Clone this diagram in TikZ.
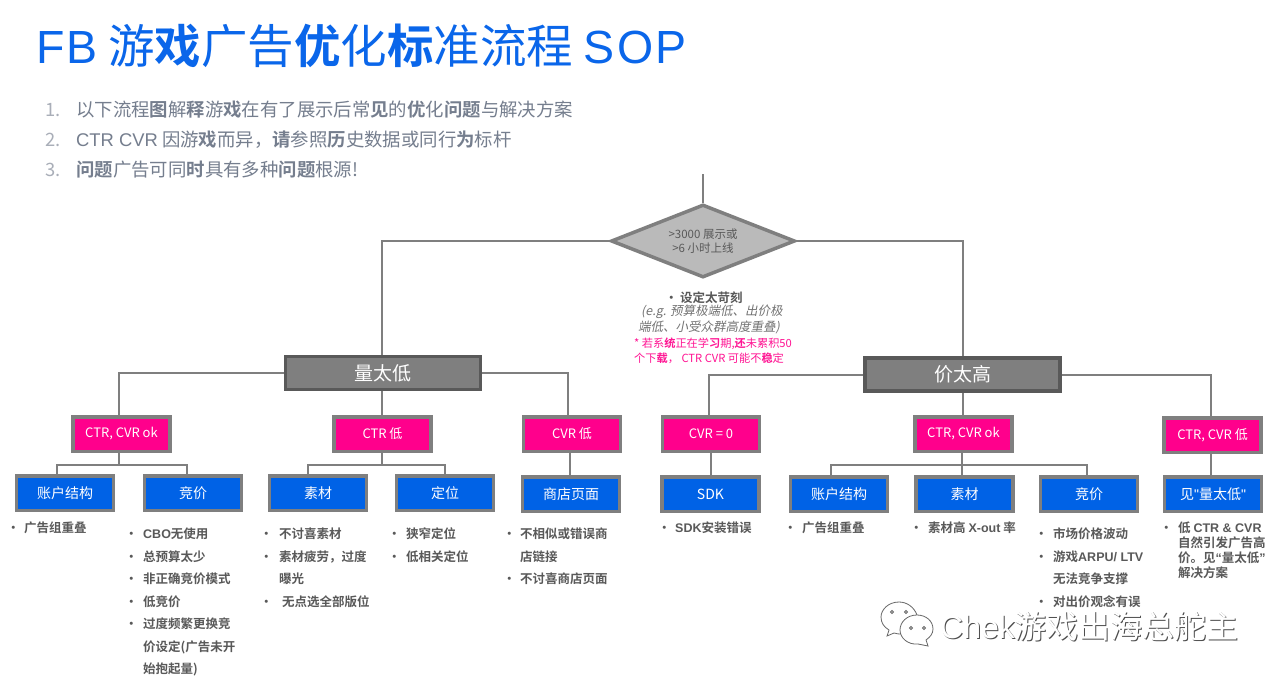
\documentclass[tikz,border=0pt]{standalone}
\usepackage{fontspec}
\usepackage{xcolor}
\setmainfont{Noto Sans CJK SC}[BoldFont={Noto Sans CJK SC Bold},AutoFakeSlant=0.2]
\newfontfamily\la{Liberation Sans}
\newfontfamily\las{Liberation Sans}[LetterSpace=5]
\usetikzlibrary{shapes.geometric,calc}
\definecolor{ln}{HTML}{7F7F7F}
\definecolor{pinkbox}{HTML}{FF008C}
\definecolor{bluebox}{HTML}{0062E6}
\definecolor{titleblue}{HTML}{0A66EA}
\definecolor{listgray}{HTML}{757E8E}
\definecolor{numgray}{HTML}{A9AEB8}
\definecolor{txt}{HTML}{595959}
\definecolor{pinktxt}{HTML}{FF1493}
\newcounter{tn}
\newcommand{\fs}[1]{\fontsize{#1}{#1}\selectfont}
\tikzset{
 conn/.style={draw=ln,line width=2pt},
 pbox/.style={draw=ln,line width=3.5pt,fill=pinkbox,text=white,minimum width=97pt,minimum height=34.5pt,inner sep=0,font=\fs{13}},
 bbox/.style={draw=ln,line width=3.5pt,fill=bluebox,text=white,minimum width=97pt,minimum height=34.5pt,inner sep=0,font=\fs{14}},
 hbox/.style={draw=txt,line width=3.5pt,fill=ln,text=white,minimum width=195pt,minimum height=33pt,inner sep=0,font=\fs{19}},
 line/.style={anchor=west,inner sep=0,text height=9.5pt,text depth=2.5pt},
 item/.style={line,yshift=-4pt,text=txt,font=\fs{12.5}\bfseries},
 head/.style={line,yshift=-4pt,text=listgray,font=\fs{18.4}},
 num/.style={line,yshift=-4pt,text=numgray,font=\fs{18.4}},
}
\newcommand{\li}[4]{\stepcounter{tn}%
 \node[item] (b\thetn) at (#1-3,#2) {•};
 \node[item] (i\thetn) at (#3,#2) {#4};}
\begin{document}
\begin{tikzpicture}[x=1pt,y=-1pt]
\useasboundingbox[fill=white] (0,0) rectangle (1280,683);
% title
\node[anchor=base west,inner sep=0,text=titleblue,font=\fs{46.5}] (title) at (36,63) {{\las FB} 游\textbf{戏}广告\textbf{优}化\textbf{标}准流程 {\las SOP}};
\node[num] (n1) at (45,109) {1.};
\node[head] (h1) at (76,109) {以下流程\textbf{图}解\textbf{释}游\textbf{戏}在有了展示后常\textbf{见}的\textbf{优}化\textbf{问题}与解决方案};
\node[num] (n2) at (45,139) {2.};
\node[head] (h2) at (76,139) {{\la CTR CVR} 因游\textbf{戏}而异，\textbf{请}参照\textbf{历}史数据或同行\textbf{为}标杆};
\node[num] (n3) at (45,169) {3.};
\node[head] (h3) at (76,169) {\textbf{问题}广告可同\textbf{时}具有多种\textbf{问题}根源!};
% decision
\coordinate (top) at (703,174);
\node[diamond,aspect=2.5,draw=ln,line width=3.5pt,fill=black!27,minimum width=184pt,minimum height=73pt,inner sep=0,text=txt,align=center,font=\fs{11.5}] (dia) at (703,241) {>3000 展示或\\[2pt]>6 小时上线};
% heads
\node[hbox] (low) at (383,373) {量太低};
\node[hbox] (high) at (962.5,374.5) {价太高};
% pink
\node[pbox] (p1) at (121.5,434) {CTR, CVR ok};
\node[pbox] (p2) at (382.5,434) {CTR 低};
\node[pbox] (p3) at (572,434) {CVR 低};
\node[pbox] (p4) at (711,434) {CVR = 0};
\node[pbox] (p5) at (963.5,434) {CTR, CVR ok};
\node[pbox] (p6) at (1212.5,435) {CTR, CVR 低};
% blue
\node[bbox] (b1) at (65,493) {账户结构};
\node[bbox] (b2) at (193,493) {竞价};
\node[bbox] (b3) at (318,493) {素材};
\node[bbox] (b4) at (445,493) {定位};
\node[bbox] (b5) at (571,494) {商店页面};
\node[bbox] (b6) at (710.5,494) {SDK};
\node[bbox] (b7) at (839,494) {账户结构};
\node[bbox] (b8) at (964.5,494) {素材};
\node[bbox] (b9) at (1089,494) {竞价};
\node[bbox] (b10) at (1213,494) {见{\la "}量太低{\la "}};
% connectors
\draw[conn] (top) -- (dia.north);
\draw[conn] (dia.west) -| ([xshift=-1pt]low.north);
\draw[conn] (dia.east) -| (high.north);
\draw[conn] (low.west) -| ([xshift=-2.5pt]p1.north);
\draw[conn] (low.east) -| ([xshift=-4pt]p3.north);
\draw[conn] ([xshift=-1pt]low.south) -- ([xshift=-.5pt]p2.north);
\draw[conn] (high.west) -| ([xshift=-2pt]p4.north);
\draw[conn] (high.east) -| ([xshift=-1.5pt]p6.north);
\draw[conn] (high.south) -- ([xshift=-1pt]p5.north);
\coordinate (j1) at (119,465);
\draw[conn] ([xshift=-2.5pt]p1.south) -- (j1);
\draw[conn] ([xshift=-8pt]b1.north) |- (j1) -| ([xshift=-6pt]b2.north);
\coordinate (j2) at (382,465);
\draw[conn] ([xshift=-.5pt]p2.south) -- (j2);
\draw[conn] ([xshift=-10pt]b3.north) |- (j2) -| (b4.north);
\draw[conn] ([xshift=-2pt]p3.south) -- ([xshift=-1pt]b5.north);
\draw[conn] ([xshift=-.5pt]p4.south) -- (b6.north);
\coordinate (j3) at (962,465);
\draw[conn] ([xshift=-1.5pt]p5.south) -- (j3);
\draw[conn] ([xshift=-8pt]b7.north) |- (j3) -| ([xshift=-2pt]b9.north);
\draw[conn] (j3) -- ([xshift=-2.5pt]b8.north);
\draw[conn] ([xshift=-1.5pt]p6.south) -- ([xshift=-2pt]b10.north);
% centre note
\li{668}{295}{680}{设定太苛刻}
\node[anchor=west,inner sep=0,text=black!55,font=\fs{12.5}\itshape] (e1) at (641,312) {(e.g. 预算极端低、出价极};
\node[anchor=west,inner sep=0,text=black!55,font=\fs{12.5}\itshape] (e2) at (638,327) {端低、小受众群高度重叠)};
\node[anchor=west,inner sep=0,text=pinktxt,font=\fs{11.2}] (w1) at (634,344) {* 若系\textbf{统}正在学\textbf{习}期,\textbf{还}未累积50};
\node[anchor=west,inner sep=0,text=pinktxt,font=\fs{11.2}] (w2) at (634,358) {个下\textbf{载}， CTR CVR 可能不\textbf{稳}定};
% lists
\li{10}{525}{24}{广告组重叠}
\li{128}{531}{143}{{\la CBO}无使用}
\li{128}{554}{143}{总预算太少}
\li{128}{576}{143}{非正确竞价模式}
\li{128}{599}{143}{低竞价}
\li{128}{621}{143}{过度频繁更换竞}
\node[item] (c1) at (143,644) {价设定(广告未开};
\node[item] (c2) at (143,666) {始抱起量)};
\li{263}{531}{279}{不讨喜素材}
\li{263}{554}{279}{素材疲劳，过度}
\node[item] (c3) at (279,576) {曝光};
\li{263}{599}{282}{无点选全部版位}
\li{391}{531}{406}{狭窄定位}
\li{391}{554}{406}{低相关定位}
\li{506}{531}{520}{不相似或错误商}
\node[item] (c4) at (520,554) {店链接};
\li{506}{576}{520}{不讨喜商店页面}
\li{661}{525}{675}{{\la SDK}安装错误}
\li{787}{525}{802}{广告组重叠}
\li{913}{525}{928}{素材高 {\la X-out} 率}
\li{1038}{531}{1053}{市场价格波动}
\li{1038}{554}{1053}{游戏{\la ARPU/ LTV}}
\node[item] (c5) at (1053,576) {无法竞争支撑};
\li{1038}{599}{1053}{对出价观念有误}
\li{1163}{525}{1178}{低 {\la CTR \& CVR}}
\node[item] (c6) at (1178,540) {自然引发广告高};
\node[item] (c7) at (1178,555) {价。见{\la “}量太低{\la ”}};
\node[item] (c8) at (1178,570) {解决方案};
% watermark
\begin{scope}[line width=.8pt,draw=black!60,fill=white]
 \filldraw (899,602) .. controls (888,602) and (881,610) .. (881,617) .. controls (881,623) and (884,627) .. (889,630) -- (887,636) -- (894,633) .. controls (897,634) and (899,634) .. (902,634) .. controls (912,634) and (919,626) .. (917,615) .. controls (914,607) and (907,602) .. (899,602) -- cycle;
 \filldraw (917,615) .. controls (907,615) and (900,622) .. (900,630) .. controls (900,638) and (908,645) .. (918,644) -- (928,646) -- (926,640) .. controls (930,637) and (933,634) .. (933,629) .. controls (933,621) and (926,615) .. (917,615) -- cycle;
 \foreach \p in {(892,612),(906,612),(911,628),(924,628)} \filldraw \p circle (1.5);
\end{scope}
\node[anchor=base west,inner sep=0,text=black!70,font=\fs{32}] (wm0) at (941,639) {{\la Chek}游戏出海总舵主};
\node[anchor=base west,inner sep=0,text=white,font=\fs{32}] (wm) at (940,638) {{\la Chek}游戏出海总舵主};
\end{tikzpicture}
\end{document}
